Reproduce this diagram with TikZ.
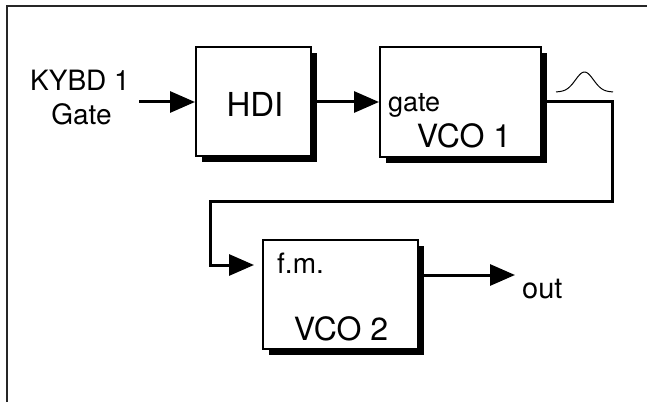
\documentclass[tikz,border=0pt]{standalone}
\usepackage{fontspec}
\setmainfont{TeX Gyre Heros}
\usetikzlibrary{arrows.meta,shadows}
\begin{document}
\begin{tikzpicture}[x=1pt,y=1pt,
  blockbox/.style={draw=black, line width=2pt, fill=white, inner sep=0pt,
    drop shadow={shadow xshift=6pt, shadow yshift=-6pt, fill=black, opacity=1}},
  lbl/.style={inner sep=0pt, font=\fontsize{28}{32}\selectfont},
  biglbl/.style={inner sep=0pt, font=\fontsize{32}{36}\selectfont},
  arr/.style={line width=3pt, -{Triangle[length=25pt,width=21pt]}, miter limit=10},
  frameline/.style={line width=2pt, draw=black!85}]
\useasboundingbox (0,0) rectangle (647,402);
% frame
\draw[frameline] (6.5,0) -- (6.5,396) -- (647,396);
% blocks
\node[blockbox, minimum width=115pt, minimum height=109pt] (hdi) at (253.5,300) {};
\node[blockbox, minimum width=161pt, minimum height=110pt] (vco1) at (460.5,300) {};
\node[blockbox, minimum width=155pt, minimum height=109pt] (vco2) at (340.5,107.5) {};
% texts
\node[lbl, anchor=base] (kybd) at (80,311) {KYBD 1};
\node[lbl, anchor=base] (gatein) at (81.5,277) {Gate};
\node[inner sep=0pt, font=\fontsize{33}{36}\selectfont, anchor=base] (hditxt) at (255,285) {HDI};
\node[inner sep=0pt, font=\fontsize{27}{30}\selectfont, anchor=base west] (gatetxt) at (388,290) {gate};
\node[biglbl, anchor=base] (vco1txt) at (464,254) {VCO 1};
\node[lbl, anchor=base west] (fmtxt) at (277,129) {f.m.};
\node[biglbl, anchor=base] (vco2txt) at (341,62) {VCO 2};
\node[inner sep=0pt, font=\fontsize{29}{32}\selectfont, anchor=base west] (outtxt) at (522,104) {out};
% connectors
\coordinate (kin) at (139,300);
\coordinate (c1) at (612,300);
\coordinate (c2) at (612,201);
\coordinate (c3) at (210,201);
\coordinate (c4) at (210,137);
\coordinate (outend) at (515,127);
\draw[arr] (kin) -- (hdi.west);
\draw[arr] (hdi.east) -- (vco1.west);
\draw[arr, shorten >=8pt] (vco1.east) -- (c1) -- (c2) -- (c3) -- (c4) -- (c4 -| vco2.west);
\draw[arr] (vco2.east |- outend) -- (outend);
% bell symbol
\draw[line width=1pt] plot[smooth, domain=556:613, samples=40]
  (\x, {310+20*exp(-((\x-584.5)/9)*((\x-584.5)/9)/2)});
\end{tikzpicture}
\end{document}
